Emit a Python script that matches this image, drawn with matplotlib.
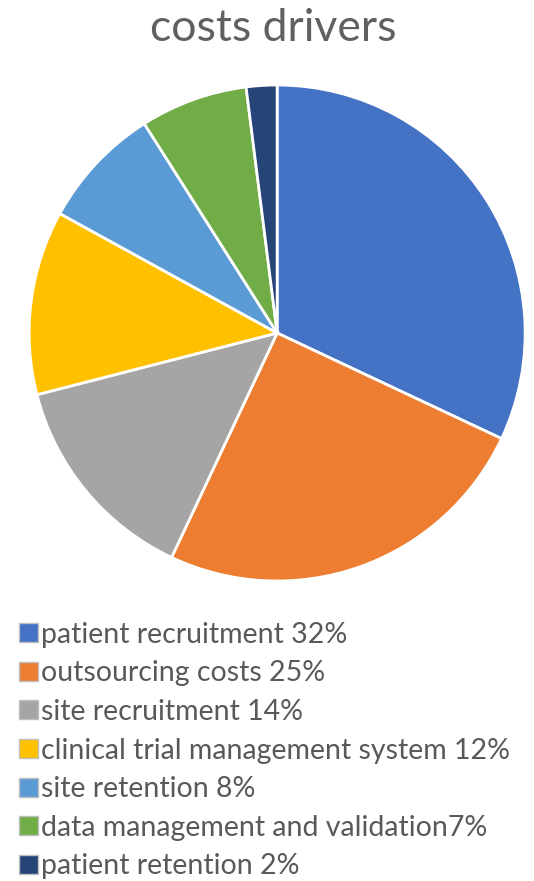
import matplotlib.pyplot as plt
from matplotlib.patches import Patch

labels = ['patient recruitment 32%', 'outsourcing costs 25%', 'site recruitment 14%',
          'clinical trial management system 12%', 'site retention 8%',
          'data management and validation7%', 'patient retention 2%']
values = [32, 25, 14, 12, 8, 7, 2]
colors = ['#4472C4', '#ED7D31', '#A5A5A5', '#FFC000', '#5B9BD5', '#70AD47', '#264478']

plt.rcParams['font.family'] = ['Lato', 'DejaVu Sans']

fig = plt.figure(figsize=(5.34, 8.81), dpi=100)
ax = fig.add_axes([0.519 - 0.4645, 0.622 - 0.2815, 0.929, 0.563])
ax.pie(values, colors=colors, startangle=90, counterclock=False,
       wedgeprops=dict(edgecolor='white', linewidth=2))
ax.set_xlim(-1.0, 1.0)
ax.set_ylim(-1.0, 1.0)
ax.set_aspect('equal')

fig.text(0.512, 0.968, 'costs drivers', ha='center', va='center',
         fontsize=32, color='#606060')

handles = [Patch(facecolor=c, edgecolor='#BFBFBF', linewidth=1) for c in colors]
fig.legend(handles, labels, loc='upper left', bbox_to_anchor=(0.015, 0.307),
           frameon=False, fontsize=20.5, labelcolor='#595959',
           handlelength=0.65, handleheight=0.65, handletextpad=0.1,
           labelspacing=0.44, borderaxespad=0)

fig.savefig('out.png', dpi=100)
